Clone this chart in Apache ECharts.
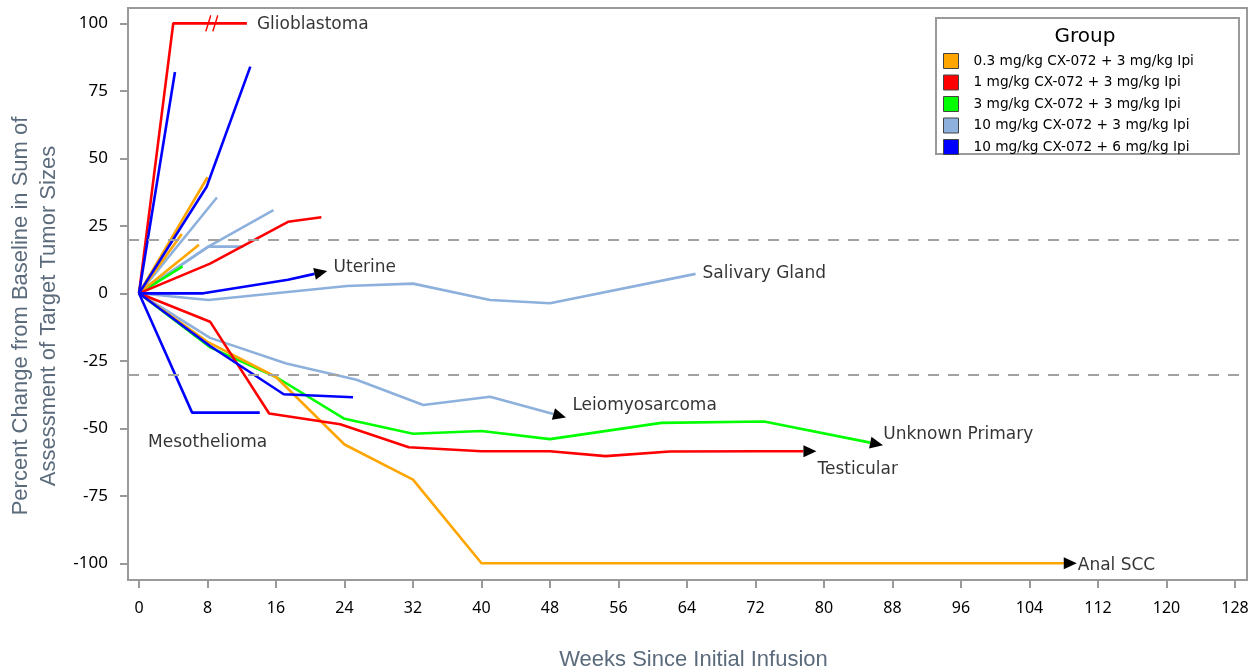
<!DOCTYPE html>
<html><head><meta charset="utf-8">
<script src="https://cdn.jsdelivr.net/npm/echarts@6/dist/echarts.min.js"></script>
<style>html,body{margin:0;padding:0;background:#fff}#c{width:1253px;height:667px}</style>
</head><body><div id="c"></div>
<script>
// ---------- data ----------
const groups = [
  '0.3 mg/kg CX-072 + 3 mg/kg Ipi',
  '1 mg/kg CX-072 + 3 mg/kg Ipi',
  '3 mg/kg CX-072 + 3 mg/kg Ipi',
  '10 mg/kg CX-072 + 3 mg/kg Ipi',
  '10 mg/kg CX-072 + 6 mg/kg Ipi'
];
const groupColors = ['#FFA500', '#FF0000', '#00FF00', '#8DB0DC', '#0000FF'];
const xTicks = [0, 8, 16, 24, 32, 40, 48, 56, 64, 72, 80, 88, 96, 104, 112, 120, 128];
const yTicks = [-100, -75, -50, -25, 0, 25, 50, 75, 100];
const refLines = [20, -30];

// orange
const analSCC = [[0,0],[8,-18],[16,-31],[24,-56],[32,-69],[40,-100],[108,-100]];
const orange2 = [[0,0],[8,43]];
const orange3 = [[0,0],[5,22]];
const orange4 = [[0,0],[7,18]];
// red
const glioblastoma = [[0,0],[4,100],[8.5,100],[12.6,100]];
const glioBreakIndex = 2;
const red2 = [[0,0],[8.3,11],[17.4,26.5],[21.3,28.2]];
const testicular = [[0,0],[8.3,-10.5],[15.2,-44.5],[23.5,-48.5],[31.5,-57],[40,-58.5],[48,-58.5],[54.5,-60.3],[62,-58.6],[72,-58.5],[77.6,-58.5]];
// green
const unknownPrimary = [[0,0],[8.3,-20],[16,-31],[24,-46.5],[32,-52],[40,-51],[48,-54],[61,-48],[73,-47.5],[85.4,-55.3]];
const green2 = [[0,0],[5.1,10]];
// light blue
const lblue1 = [[0,0],[9.1,35.5]];
const lblue2 = [[0,0],[8.1,17.3],[15.7,30.8]];
const lblue3 = [[0,0],[8.1,17.3],[12.2,17.3]];
const salivaryGland = [[0,0],[8.1,-2.5],[24.3,2.7],[32,3.6],[41,-2.5],[48,-3.7],[65,7.2]];
const leiomyosarcoma = [[0,0],[8.3,-16.5],[17.2,-26],[25.4,-32],[33.2,-41.4],[41,-38.3],[48.4,-44.7]];
// blue
const blue1 = [[0,0],[4.2,82]];
const blue2 = [[0,0],[7.9,39.5],[13,84]];
const uterine = [[0,0],[7.5,0],[17.4,5],[20.5,7.2]];
const mesothelioma = [[0,0],[6.2,-44.2],[14.1,-44.2]];
const blue5 = [[0,0],[8.3,-19.5],[16.9,-37.4],[25,-38.5]];

// ---------- configuration ----------
const patients = [
  {g:3, d:lblue1}, {g:3, d:lblue2}, {g:3, d:lblue3},
  {g:3, d:salivaryGland, label:'Salivary Gland', at:-1, off:[7,0]},
  {g:3, d:leiomyosarcoma, label:'Leiomyosarcoma', at:-1, off:[19,-8], arrow:true},
  {g:2, d:green2},
  {g:2, d:unknownPrimary, label:'Unknown Primary', at:-1, off:[13,-8], arrow:true},
  {g:0, d:orange2}, {g:0, d:orange3}, {g:0, d:orange4},
  {g:0, d:analSCC, label:'Anal SCC', at:-1, off:[14,2], arrow:true},
  {g:1, d:glioblastoma, label:'Glioblastoma', at:-1, off:[10,1], brk:glioBreakIndex},
  {g:1, d:red2},
  {g:1, d:testicular, label:'Testicular', at:-1, off:[14,18], arrow:true},
  {g:4, d:blue1}, {g:4, d:blue2},
  {g:4, d:uterine, label:'Uterine', at:-1, off:[19,-6], arrow:true},
  {g:4, d:mesothelioma, label:'Mesothelioma', at:1, off:[-44,30]},
  {g:4, d:blue5}
];

const FONT = 'DejaVu Sans';
const TICKFONT = 'Noto Sans';
const TITLEFONT = 'Liberation Sans';
const TITLECOLOR = '#5b6b7c';
const chart = echarts.init(document.getElementById('c'));

function buildSeries(arrowInfo) {
  const s = patients.map((p, k) => {
    const col = groupColors[p.g];
    const data = p.d.map((pt, i) => {
      if (p.brk === i) {
        return {value: pt, symbol: 'path://M0,16 L5,0 M7,16 L12,0', symbolSize: [12, 16],
          itemStyle: {color: 'rgba(0,0,0,0)', borderColor: col, borderWidth: 1.6}};
      }
      if (p.arrow && i === p.d.length - 1 && arrowInfo && arrowInfo[k]) {
        return {value: pt, symbol: 'triangle', symbolSize: [12, 13],
          symbolRotate: arrowInfo[k].rot, symbolOffset: arrowInfo[k].off,
          itemStyle: {color: '#000'}};
      }
      return pt;
    });
    return {
      type: 'line', name: groups[p.g], data: data, symbol: 'none', showSymbol: true,
      color: col, lineStyle: {width: 2.6, color: col}, itemStyle: {color: col},
      silent: true, animation: false, z: 3
    };
  });
  const labelData = patients.filter(p => p.label).map(p => {
    const idx = p.at < 0 ? p.d.length + p.at : p.at;
    return {value: p.d[idx], label: {show: true, formatter: p.label, position: 'right', distance: 0,
      offset: p.off, fontFamily: FONT, fontSize: 17, color: '#000'}};
  });
  s.push({
    type: 'scatter', name: 'annotations', data: labelData, symbolSize: 0, silent: true, animation: false, z: 4,
    markLine: {
      silent: true, symbol: ['none', 'none'], animation: false,
      lineStyle: {type: [11, 9], color: '#a2a2a2', width: 2},
      label: {show: false},
      data: refLines.map(v => ({yAxis: v}))
    }
  });
  return s;
}

const option = {
  animation: false,
  backgroundColor: '#fff',
  grid: {left: 128, top: 8, width: 1119, height: 572, show: true, borderColor: '#9a9a9a', borderWidth: 2,
    containLabel: false, outerBoundsMode: 'none'},
  xAxis: {
    type: 'value', min: -1.285, max: 129.4,
    name: 'Weeks Since Initial Infusion', nameLocation: 'middle', nameGap: 69,
    nameTextStyle: {fontFamily: TITLEFONT, fontSize: 22, color: TITLECOLOR, padding: [0, 0, 0, 12]},
    axisLine: {show: true, onZero: false, lineStyle: {color: '#9a9a9a', width: 2}},
    axisTick: {show: true, length: 8, customValues: xTicks, lineStyle: {color: '#9a9a9a', width: 2}},
    axisLabel: {customValues: xTicks, margin: 20, fontFamily: TICKFONT, fontSize: 16, color: '#000'},
    splitLine: {show: false}
  },
  yAxis: {
    type: 'value', min: -106.2, max: 105.7,
    name: 'Percent Change from Baseline in Sum of\nAssessment of Target Tumor Sizes',
    nameLocation: 'middle', nameGap: 62,
    nameTextStyle: {fontFamily: TITLEFONT, fontSize: 22, lineHeight: 28, color: TITLECOLOR, padding: [0, 44, 0, 0]},
    axisLine: {show: true, onZero: false, lineStyle: {color: '#9a9a9a', width: 2}},
    axisTick: {show: true, length: 8, customValues: yTicks, lineStyle: {color: '#9a9a9a', width: 2}},
    axisLabel: {customValues: yTicks, margin: 20, fontFamily: TICKFONT, fontSize: 17, color: '#000'},
    splitLine: {show: false}
  },
  legend: {
    data: groups, orient: 'vertical', left: 943, top: 53, padding: 0,
    icon: 'rect', itemWidth: 15, itemHeight: 15, itemGap: 5.5, selectedMode: false,
    itemStyle: {borderColor: '#444', borderWidth: 1},
    textStyle: {fontFamily: FONT, fontSize: 13.7, color: '#000', padding: [0, 0, 0, 10]}
  },
  graphic: [
    {type: 'rect', left: 935, top: 17, shape: {width: 303, height: 136}, z: 1,
      style: {fill: '#fff', stroke: '#9a9a9a', lineWidth: 2}},
    {type: 'text', x: 1085, y: 37, z: 2,
      style: {text: 'Group', fontFamily: FONT, fontSize: 20, fill: '#000', textAlign: 'center', textVerticalAlign: 'middle'}}
  ],
  series: buildSeries(null)
};
chart.setOption(option);

// compute arrow rotations from pixel directions
const arrowInfo = patients.map(p => {
  if (!p.arrow) return null;
  const n = p.d.length;
  const a = chart.convertToPixel({gridIndex: 0}, p.d[n - 2]);
  const b = chart.convertToPixel({gridIndex: 0}, p.d[n - 1]);
  const dx = b[0] - a[0], dy = b[1] - a[1];
  const len = Math.sqrt(dx * dx + dy * dy) || 1;
  const phi = Math.atan2(-dy, dx) * 180 / Math.PI;
  return {rot: phi - 90, off: [dx / len * 6.5, dy / len * 6.5]};
});
chart.setOption({series: buildSeries(arrowInfo)});
</script>
</body></html>
